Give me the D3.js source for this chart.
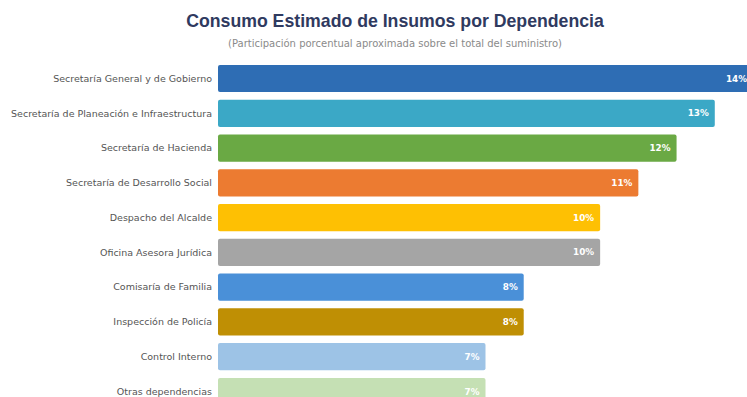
<!DOCTYPE html>
<html>
<head>
<meta charset="utf-8">
<script src="https://cdn.jsdelivr.net/npm/d3@7.9.0/dist/d3.min.js"></script>
<style>
  html, body { margin: 0; padding: 0; background: #fff; overflow: hidden; }
  svg { display: block; font-family: "DejaVu Sans", Verdana, sans-serif; }
</style>
</head>
<body>
<svg id="chart" width="747" height="397"></svg>
<script>
// Dependencias (categorías)
const dependencias = [
  "Secretaría General y de Gobierno",
  "Secretaría de Planeación e Infraestructura",
  "Secretaría de Hacienda",
  "Secretaría de Desarrollo Social",
  "Despacho del Alcalde",
  "Oficina Asesora Jurídica",
  "Comisaría de Familia",
  "Inspección de Policía",
  "Control Interno",
  "Otras dependencias"
];

// Participación porcentual (%)
const participacion = [14, 13, 12, 11, 10, 10, 8, 8, 7, 7];

// Colores de cada barra
const colores = [
  "#2e6db4", "#3ba8c6", "#6aa944", "#ec7b31", "#fec003",
  "#a5a5a5", "#4a90d8", "#bf8f04", "#9dc3e6", "#c5e0b4"
];

const data = dependencias.map((d, i) => ({ label: d, value: participacion[i], color: colores[i] }));

const svg = d3.select("#chart");

// Title and subtitle
svg.append("text")
  .attr("x", 395).attr("y", 27)
  .attr("text-anchor", "middle")
  .attr("font-family", "'Liberation Sans', Arial, sans-serif")
  .attr("font-size", 17.7)
  .attr("font-weight", "bold")
  .attr("fill", "#2f3a5f")
  .text("Consumo Estimado de Insumos por Dependencia");

svg.append("text")
  .attr("x", 395).attr("y", 47)
  .attr("text-anchor", "middle")
  .attr("font-size", 10)
  .attr("fill", "#8a8a8a")
  .text("(Participación porcentual aproximada sobre el total del suministro)");

// Scales
const x = d3.scaleLinear().domain([0, 14]).range([218, 753]);
const y = d3.scaleBand()
  .domain(dependencias)
  .range([65, 65 + 34 * dependencias.length])
  .paddingInner(0.22)
  .paddingOuter(0);

// Bars
svg.selectAll("rect.bar")
  .data(data)
  .join("rect")
  .attr("class", "bar")
  .attr("x", x(0))
  .attr("y", d => y(d.label))
  .attr("width", d => x(d.value) - x(0))
  .attr("height", y.bandwidth())
  .attr("rx", 2)
  .attr("fill", d => d.color);

// Category labels
svg.selectAll("text.cat")
  .data(data)
  .join("text")
  .attr("class", "cat")
  .attr("x", x(0) - 6)
  .attr("y", d => y(d.label) + y.bandwidth() / 2)
  .attr("dy", "0.35em")
  .attr("text-anchor", "end")
  .attr("font-size", 9.5)
  .attr("fill", "#555")
  .text(d => d.label);

// Value labels
svg.selectAll("text.val")
  .data(data)
  .join("text")
  .attr("class", "val")
  .attr("x", d => x(d.value) - 6)
  .attr("y", d => y(d.label) + y.bandwidth() / 2)
  .attr("dy", "0.35em")
  .attr("text-anchor", "end")
  .attr("font-size", 8.8)
  .attr("font-weight", "bold")
  .attr("fill", "#fff")
  .text(d => d.value + "%");
</script>
</body>
</html>
